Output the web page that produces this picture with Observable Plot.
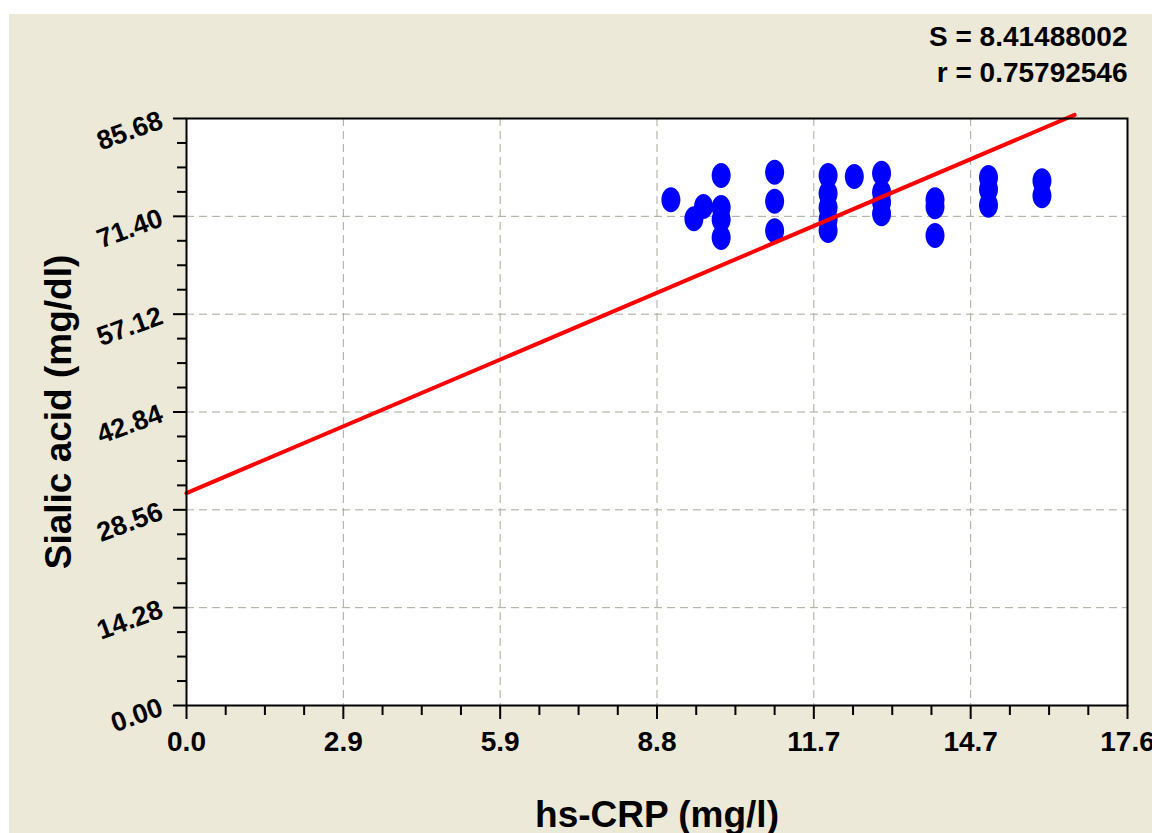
<!DOCTYPE html>
<html>
<head>
<meta charset="utf-8">
<script src="https://cdn.jsdelivr.net/npm/d3@7"></script>
<script src="https://cdn.jsdelivr.net/npm/@observablehq/plot@0.6"></script>
<style>
  html, body { margin: 0; padding: 0; background: #ffffff; width: 1152px; height: 833px; overflow: hidden; }
  #bg { position: absolute; left: 9px; top: 14px; right: 0; bottom: 0; background: #ECE9D8; }
  #chart { position: absolute; left: 0; top: 0; }
</style>
</head>
<body>
<div id="bg"></div>
<div id="chart"></div>
<script>
// ---- data ----
const crpX = [9.06, 9.49, 9.67, 10, 10, 10, 10, 11, 11, 11, 12, 12, 12, 12, 12, 12.49, 13, 13, 13, 13, 14, 14, 14, 15, 15, 15, 16, 16];
const sialicY = [73.81, 71.04, 72.84, 77.36, 72.69, 70.94, 68.31, 77.85, 73.6, 69.3, 77.36, 74.73, 72.69, 70.94, 69.33, 77.21, 77.7, 74.92, 73.46, 71.77, 73.82, 72.79, 68.6, 77.05, 75.3, 73.03, 76.59, 74.4];

const fitX = [0, 16.61];
const fitY = [31.0, 86.2];

const xTickValues = [0, 2.9333, 5.8667, 8.8, 11.7333, 14.6667, 17.6];
const xTickLabels = ["0.0", "2.9", "5.9", "8.8", "11.7", "14.7", "17.6"];
const yTickValues = [0, 14.28, 28.56, 42.84, 57.12, 71.40, 85.68];
const yTickLabels = ["0.00", "14.28", "28.56", "42.84", "57.12", "71.40", "85.68"];

const statLines = ["S = 8.41488002", "r = 0.75792546"];
const xTitle = "hs-CRP (mg/l)";
const yTitle = "Sialic acid (mg/dl)";

// ---- build ----
const points = crpX.map((x, i) => ({x, y: sialicY[i]}));
const fit = fitX.map((x, i) => ({x, y: fitY[i]}));

function minorTicks(major) {
  const out = [];
  for (let i = 0; i < major.length - 1; i++) {
    const a = major[i], b = major[i + 1];
    for (let k = 1; k < 4; k++) out.push(a + (b - a) * k / 4);
  }
  return out;
}
const xMinor = minorTicks(xTickValues);
const yMinor = minorTicks(yTickValues);

// ellipse symbol (taller than wide)
const ellipse = {
  draw(ctx, size) {
    const r = Math.sqrt(size / Math.PI);
    const rx = r * 0.76, ry = r, k = 0.5523;
    ctx.moveTo(rx, 0);
    ctx.bezierCurveTo(rx, k * ry, k * rx, ry, 0, ry);
    ctx.bezierCurveTo(-k * rx, ry, -rx, k * ry, -rx, 0);
    ctx.bezierCurveTo(-rx, -k * ry, -k * rx, -ry, 0, -ry);
    ctx.bezierCurveTo(k * rx, -ry, rx, -k * ry, rx, 0);
    ctx.closePath();
  }
};

const font = "'Liberation Sans', Arial, sans-serif";
const gridStyle = {stroke: "#aaa69a", strokeOpacity: 1, strokeWidth: 1, strokeDasharray: "8,5"};

const chart = Plot.plot({
  width: 1152,
  height: 833,
  marginLeft: 186,
  marginRight: 25,
  marginTop: 118,
  marginBottom: 128,
  style: {background: "transparent", fontFamily: font, color: "black", overflow: "visible"},
  x: {domain: [0, 17.6]},
  y: {domain: [0, 85.68]},
  marks: [
    Plot.frame({fill: "white", stroke: null}),
    Plot.gridX(xTickValues.slice(1, -1), gridStyle),
    Plot.gridY(yTickValues.slice(1, -1), gridStyle),
    Plot.dot(points, {x: "x", y: "y", r: 12.5, symbol: ellipse, fill: "#0000ff", stroke: null}),
    Plot.line(fit, {x: "x", y: "y", stroke: "#ff0000", strokeWidth: 4, clip: false}),
    Plot.frame({stroke: "black", strokeWidth: 2}),
    // x axis
    Plot.axisX(xMinor, {tickSize: 10, strokeWidth: 2, tickFormat: () => "", stroke: "black", label: null}),
    Plot.axisX(xTickValues, {
      tickSize: 14, tickPadding: 12, strokeWidth: 2, stroke: "black",
      tickFormat: d => xTickLabels[xTickValues.indexOf(d)],
      fontSize: 28, fontWeight: "bold", label: null
    }),
    // y axis
    Plot.axisY(yMinor, {tickSize: 9, strokeWidth: 2, tickFormat: () => "", stroke: "black", label: null}),
    Plot.axisY(yTickValues, {tickSize: 13, strokeWidth: 2, stroke: "black", tickFormat: () => "", label: null}),
    Plot.text(yTickValues, {
      y: d => d, frameAnchor: "left", text: d => yTickLabels[yTickValues.indexOf(d)],
      dx: -22, dy: 9, rotate: -20, textAnchor: "end", lineAnchor: "bottom",
      fontSize: 27, fontWeight: "bold", fill: "black"
    }),
    // titles
    Plot.text([xTitle], {frameAnchor: "bottom", text: d => d, dy: 121, lineAnchor: "bottom",
      fontSize: 37, fontWeight: "bold", fill: "black"}),
    Plot.text([yTitle], {frameAnchor: "left", text: d => d, dx: -116, rotate: -90, lineAnchor: "bottom",
      textAnchor: "middle", fontSize: 37, fontWeight: "bold", fill: "black"}),
    Plot.text([statLines[0]], {frameAnchor: "top-right", text: d => d, dy: -73, lineAnchor: "bottom",
      textAnchor: "end", fontSize: 28, fontWeight: "bold", fill: "black"}),
    Plot.text([statLines[1]], {frameAnchor: "top-right", text: d => d, dy: -37, lineAnchor: "bottom",
      textAnchor: "end", fontSize: 28, fontWeight: "bold", fill: "black"})
  ]
});
document.getElementById("chart").appendChild(chart);
</script>
</body>
</html>
